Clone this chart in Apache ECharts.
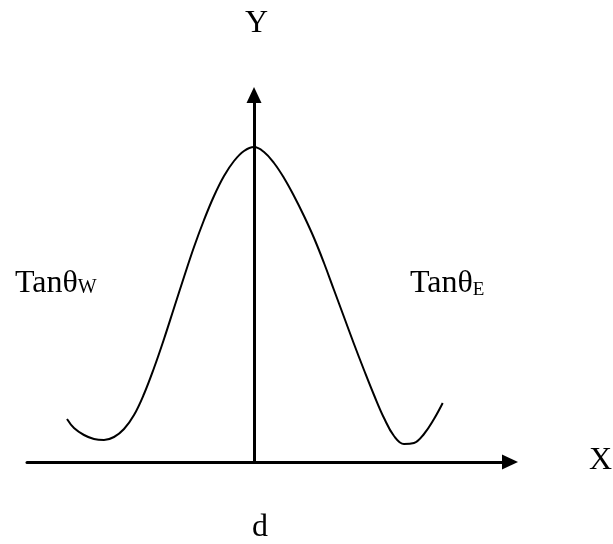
<!DOCTYPE html>
<html>
<head>
<meta charset="utf-8">
<script src="https://cdn.jsdelivr.net/npm/echarts@6/dist/echarts.min.js"></script>
<style>html,body{margin:0;padding:0;background:#fff}#c{width:613px;height:544px}</style>
</head>
<body>
<div id="c"></div>
<script>
// Curve (x: distance from centre, y: height above X axis)
const curveX = [-18.7, -18, -17, -16, -15, -14, -13, -12, -11, -10, -9, -8, -7, -6, -5, -4, -3, -2, -1, 0, 1, 2, 3, 4, 5, 6, 7, 8, 9, 10, 11, 12, 13, 14, 15, 16, 17, 18, 18.87];
const curveY = [4.3, 3.4, 2.7, 2.3, 2.2, 2.5, 3.3, 4.7, 6.8, 9.4, 12.3, 15.4, 18.5, 21.5, 24.2, 26.6, 28.6, 30.1, 31.1, 31.5, 31.0, 29.9, 28.4, 26.6, 24.6, 22.4, 19.9, 17.2, 14.5, 11.8, 9.2, 6.7, 4.4, 2.6, 1.8, 1.9, 2.8, 4.3, 5.9];
const xRange = [-22.7, 25.6];
const yRange = [0, 36.7];
const labels = { y: 'Y', x: 'X', d: 'd', west: ['Tanθ', 'W'], east: ['Tanθ', 'E'] };

const serif = '"Liberation Serif", "DejaVu Serif", serif';
const chart = echarts.init(document.getElementById('c'), null, { renderer: 'canvas' });

const axisLineStyle = { color: '#000', width: 3 };
chart.setOption({
  animation: false,
  backgroundColor: '#fff',
  grid: { left: 27, right: 103, top: 95, bottom: 82 },
  xAxis: {
    type: 'value', min: xRange[0], max: xRange[1],
    axisLine: { show: true, onZero: true, symbol: ['none', 'triangle'], symbolSize: [15, 16], lineStyle: axisLineStyle },
    axisTick: { show: false }, axisLabel: { show: false }, splitLine: { show: false }
  },
  yAxis: {
    type: 'value', min: yRange[0], max: yRange[1],
    axisLine: { show: true, onZero: true, symbol: ['none', 'triangle'], symbolSize: [15, 16], lineStyle: axisLineStyle },
    axisTick: { show: false }, axisLabel: { show: false }, splitLine: { show: false }
  },
  series: [{
    type: 'line',
    data: curveX.map((x, i) => [x, curveY[i]]),
    smooth: 0.4,
    showSymbol: false,
    lineStyle: { color: '#000', width: 2 },
    z: 1
  }],
  graphic: [
    { type: 'text', left: 245, top: 8, style: { text: labels.y, font: '32px ' + serif, fill: '#000' } },
    { type: 'text', left: 589, top: 445, style: { text: labels.x, font: '32px ' + serif, fill: '#000' } },
    { type: 'text', left: 252, top: 512, style: { text: labels.d, font: '32px ' + serif, fill: '#000' } },
    { type: 'text', left: 15, top: 268, style: {
        text: '{a|' + labels.west[0] + '}{s|' + labels.west[1] + '}',
        rich: { a: { fontFamily: serif, fontSize: 32, lineHeight: 32, color: '#000', verticalAlign: 'bottom' },
                s: { fontFamily: serif, fontSize: 20, lineHeight: 20, color: '#000', verticalAlign: 'bottom', padding: [0, 0, 2, 0] } } } },
    { type: 'text', left: 410, top: 268, style: {
        text: '{a|' + labels.east[0] + '}{s|' + labels.east[1] + '}',
        rich: { a: { fontFamily: serif, fontSize: 32, lineHeight: 32, color: '#000', verticalAlign: 'bottom' },
                s: { fontFamily: serif, fontSize: 19, lineHeight: 16, color: '#000', verticalAlign: 'bottom' } } } }
  ]
});
</script>
</body>
</html>
